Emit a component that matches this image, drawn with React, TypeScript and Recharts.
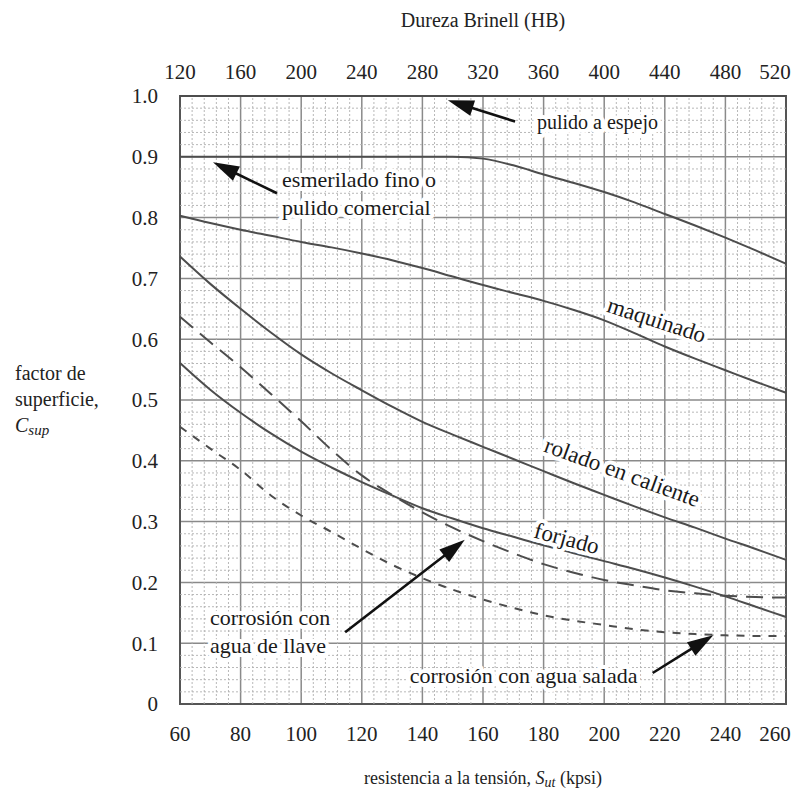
import React from 'react';
import {
  LineChart,
  Line,
  XAxis,
  YAxis,
  CartesianGrid,
  ReferenceLine,
  ReferenceDot,
  ReferenceArea,
  Text,
} from 'recharts';

// ---------------- data ----------------
const kpsi = [60, 70, 80, 90, 100, 110, 120, 130, 140, 150, 160, 170, 180, 190, 200, 210, 220, 230, 240, 250, 260];
const pulidoEspejo = [1.0, 1.0, 1.0, 1.0, 1.0, 1.0, 1.0, 1.0, 1.0, 1.0, 1.0, 1.0, 1.0, 1.0, 1.0, 1.0, 1.0, 1.0, 1.0, 1.0, 1.0];
const esmerilado = [0.9, 0.9, 0.9, 0.9, 0.9, 0.9, 0.9, 0.9, 0.9, 0.9, 0.897, 0.886, 0.871, 0.857, 0.842, 0.825, 0.806, 0.787, 0.767, 0.746, 0.724];
const maquinado = [0.803, 0.791, 0.780, 0.770, 0.760, 0.751, 0.741, 0.730, 0.717, 0.703, 0.689, 0.676, 0.663, 0.648, 0.631, 0.610, 0.588, 0.568, 0.549, 0.530, 0.512];
const rolado = [0.736, 0.691, 0.650, 0.611, 0.575, 0.544, 0.516, 0.489, 0.464, 0.443, 0.423, 0.403, 0.383, 0.363, 0.344, 0.325, 0.307, 0.290, 0.272, 0.255, 0.237];
const forjado = [0.561, 0.517, 0.479, 0.445, 0.415, 0.389, 0.365, 0.343, 0.322, 0.305, 0.289, 0.275, 0.261, 0.248, 0.235, 0.222, 0.208, 0.193, 0.177, 0.160, 0.143];
const aguaLlave = [0.637, 0.595, 0.554, 0.510, 0.465, 0.418, 0.376, 0.344, 0.315, 0.290, 0.268, 0.248, 0.230, 0.216, 0.204, 0.195, 0.187, 0.182, 0.178, 0.176, 0.175];
const aguaSalada = [0.456, 0.420, 0.385, 0.343, 0.310, 0.283, 0.255, 0.229, 0.207, 0.188, 0.172, 0.158, 0.146, 0.137, 0.130, 0.123, 0.118, 0.115, 0.113, 0.112, 0.112];

const bottomTicks = [60, 80, 100, 120, 140, 160, 180, 200, 220, 240, 260];
const topTickLabels = ['120', '160', '200', '240', '280', '320', '360', '400', '440', '480', '520'];
const yTicks = [0, 0.1, 0.2, 0.3, 0.4, 0.5, 0.6, 0.7, 0.8, 0.9, 1.0];

const data = kpsi.map((k, i) => ({
  kpsi: k,
  espejo: pulidoEspejo[i],
  esmerilado: esmerilado[i],
  maquinado: maquinado[i],
  rolado: rolado[i],
  forjado: forjado[i],
  llave: aguaLlave[i],
  salada: aguaSalada[i],
}));

// graph-paper subdivisions (5 per major cell), skipping the major lines
const minorX: number[] = [];
for (let v = 64; v < 260; v += 4) if (v % 20 !== 0) minorX.push(v);
const minorY: number[] = [];
for (let v = 2; v < 100; v += 2) if (v % 10 !== 0) minorY.push(v / 100);

// ---------------- styles ----------------
const FONT = '"Liberation Serif", "DejaVu Serif", serif';
const INK = '#222';
const CURVE = '#4d4d4d';
const TICK_SIZE = 21;

const lastShift = (v: number) => (v === bottomTicks[bottomTicks.length - 1] ? -11 : 0);

const BottomTick = (p: any) => (
  <Text
    x={p.x + lastShift(p.payload.value)}
    y={p.y}
    textAnchor="middle"
    verticalAnchor="start"
    fontFamily={FONT}
    fontSize={TICK_SIZE}
    fill={INK}
  >
    {String(p.payload.value)}
  </Text>
);

const TopTick = (p: any) => (
  <Text
    x={p.x + lastShift(p.payload.value)}
    y={p.y}
    textAnchor="middle"
    verticalAnchor="end"
    fontFamily={FONT}
    fontSize={TICK_SIZE}
    fill={INK}
  >
    {topTickLabels[bottomTicks.indexOf(p.payload.value)]}
  </Text>
);

const Arrow = (props: any) => {
  const { x1, y1, x2, y2 } = props;
  const dx = x2 - x1;
  const dy = y2 - y1;
  const len = Math.hypot(dx, dy) || 1;
  const ux = dx / len;
  const uy = dy / len;
  const L = 26;
  const W = 8;
  const bx = x1 + ux * L;
  const by = y1 + uy * L;
  const pts = `${x1},${y1} ${bx - uy * W},${by + ux * W} ${bx + uy * W},${by - ux * W}`;
  return (
    <g>
      <line x1={bx - ux * 2} y1={by - uy * 2} x2={x2} y2={y2} stroke="#111" strokeWidth={2.6} />
      <polygon points={pts} fill="#111" />
    </g>
  );
};

const makeText = (lines: string[], anchor: string, rotate: number, size = 22, lineGap = 28) => (props: any) => {
  const { cx, cy } = props;
  return (
    <text
      x={cx}
      y={cy}
      textAnchor={anchor as any}
      dominantBaseline="central"
      transform={rotate ? `rotate(${rotate} ${cx} ${cy})` : undefined}
      fontFamily={FONT}
      fontSize={size}
      fill="#1a1a1a"
      stroke="#fff"
      strokeWidth={8}
      strokeLinejoin="round"
      paintOrder="stroke"
    >
      {lines.map((l, i) => (
        <tspan key={i} x={cx} dy={i === 0 ? 0 : lineGap}>
          {l}
        </tspan>
      ))}
    </text>
  );
};

const TopTitle = (props: any) => {
  const vb = props.viewBox;
  return (
    <text x={vb.x + vb.width / 2} y={vb.y + 12} textAnchor="middle" dominantBaseline="central" fontFamily={FONT} fontSize={20} fill={INK}>
      Dureza Brinell (HB)
    </text>
  );
};

const BottomTitle = (props: any) => {
  const vb = props.viewBox;
  return (
    <text x={vb.x + vb.width / 2} y={vb.y + 74} textAnchor="middle" dominantBaseline="central" fontFamily={FONT} fontSize={18} fill={INK}>
      resistencia a la tensión,{' '}
      <tspan fontStyle="italic">S</tspan>
      <tspan fontStyle="italic" fontSize={14} dy={4}>ut</tspan>
      <tspan dy={-4}> (kpsi)</tspan>
    </text>
  );
};

const LeftTitle = (props: any) => {
  const vb = props.viewBox;
  const c = vb.y + vb.height / 2;
  const x = 7;
  return (
    <text fontFamily={FONT} fontSize={20} fill={INK} dominantBaseline="central">
      <tspan x={x} y={c - 27}>factor de</tspan>
      <tspan x={x} y={c - 1}>superficie,</tspan>
      <tspan x={x} y={c + 25} fontStyle="italic">C</tspan>
      <tspan fontStyle="italic" fontSize={15} dy={5}>sup</tspan>
    </text>
  );
};

const tickStyle = { fontFamily: FONT, fontSize: TICK_SIZE, fill: INK };

export default function App() {
  return (
    <LineChart
      width={795}
      height={790}
      data={data}
      margin={{ top: 0, right: 17, bottom: 0, left: 0 }}
    >
      <XAxis
        xAxisId="bottom"
        dataKey="kpsi"
        type="number"
        domain={[60, 260]}
        ticks={bottomTicks}
        orientation="bottom"
        height={94}
        tickSize={0}
        tickMargin={22}
        axisLine={false}
        tick={BottomTick}
        interval={0}
        label={BottomTitle}
      />
      <XAxis
        xAxisId="top"
        dataKey="kpsi"
        type="number"
        domain={[60, 260]}
        ticks={bottomTicks}
        orientation="top"
        height={88}
        tickSize={0}
        tickMargin={17}
        axisLine={false}
        tick={TopTick}
        interval={0}
        label={TopTitle}
      />
      <YAxis
        yAxisId="main"
        type="number"
        domain={[0, 1]}
        ticks={yTicks}
        width={172}
        tickSize={0}
        tickMargin={22}
        axisLine={false}
        tick={tickStyle}
        interval={0}
        tickFormatter={(v: number) => (v === 0 ? '0' : v.toFixed(1))}
        label={LeftTitle}
      />

      {minorX.map((v) => (
        <ReferenceLine key={`mx${v}`} xAxisId="bottom" yAxisId="main" x={v} stroke="#b0b0b0" strokeWidth={0.9} strokeDasharray="2 2" />
      ))}
      {minorY.map((v) => (
        <ReferenceLine key={`my${v}`} xAxisId="bottom" yAxisId="main" y={v} stroke="#b0b0b0" strokeWidth={0.9} strokeDasharray="2 2" />
      ))}
      <CartesianGrid xAxisId="bottom" yAxisId="main" stroke="#8a8a8a" strokeWidth={1.5} />

      <Line xAxisId="top" yAxisId="main" type="monotone" dataKey="espejo" stroke={CURVE} strokeWidth={2} dot={false} isAnimationActive={false} />
      <Line xAxisId="bottom" yAxisId="main" type="monotone" dataKey="esmerilado" stroke={CURVE} strokeWidth={2} dot={false} isAnimationActive={false} />
      <Line xAxisId="bottom" yAxisId="main" type="monotone" dataKey="maquinado" stroke={CURVE} strokeWidth={2} dot={false} isAnimationActive={false} />
      <Line xAxisId="bottom" yAxisId="main" type="monotone" dataKey="rolado" stroke={CURVE} strokeWidth={2} dot={false} isAnimationActive={false} />
      <Line xAxisId="bottom" yAxisId="main" type="monotone" dataKey="forjado" stroke={CURVE} strokeWidth={2} dot={false} isAnimationActive={false} />
      <Line xAxisId="bottom" yAxisId="main" type="monotone" dataKey="llave" stroke={CURVE} strokeWidth={2} strokeDasharray="17 9" dot={false} isAnimationActive={false} />
      <Line xAxisId="bottom" yAxisId="main" type="monotone" dataKey="salada" stroke={CURVE} strokeWidth={2} strokeDasharray="8 8" dot={false} isAnimationActive={false} />

      <ReferenceArea xAxisId="bottom" yAxisId="main" x1={60} x2={260} y1={0} y2={1} fill="none" stroke="#555" strokeWidth={2} ifOverflow="visible" />

      {/* arrows: first point is the tip */}
      <ReferenceLine xAxisId="bottom" yAxisId="main" segment={[{ x: 148.4, y: 0.993 }, { x: 170.6, y: 0.958 }]} shape={Arrow} ifOverflow="visible" />
      <ReferenceLine xAxisId="bottom" yAxisId="main" segment={[{ x: 70.9, y: 0.891 }, { x: 92, y: 0.84 }]} shape={Arrow} ifOverflow="visible" />
      <ReferenceLine xAxisId="bottom" yAxisId="main" segment={[{ x: 154, y: 0.27 }, { x: 114.5, y: 0.118 }]} shape={Arrow} ifOverflow="visible" />
      <ReferenceLine xAxisId="bottom" yAxisId="main" segment={[{ x: 236, y: 0.113 }, { x: 216, y: 0.051 }]} shape={Arrow} ifOverflow="visible" />

      {/* labels */}
      <ReferenceDot xAxisId="bottom" yAxisId="main" x={177.8} y={0.957} r={0} shape={makeText(['pulido a espejo'], 'start', 0, 20)} ifOverflow="visible" />
      <ReferenceDot xAxisId="bottom" yAxisId="main" x={93.7} y={0.8635} r={0} shape={makeText(['esmerilado fino o', 'pulido comercial'], 'start', 0)} ifOverflow="visible" />
      <ReferenceDot xAxisId="bottom" yAxisId="main" x={217.4} y={0.632} r={0} shape={makeText(['maquinado'], 'middle', 18, 23)} ifOverflow="visible" />
      <ReferenceDot xAxisId="bottom" yAxisId="main" x={206} y={0.382} r={0} shape={makeText(['rolado en caliente'], 'middle', 20, 23)} ifOverflow="visible" />
      <ReferenceDot xAxisId="bottom" yAxisId="main" x={187.7} y={0.273} r={0} shape={makeText(['forjado'], 'middle', 15, 23)} ifOverflow="visible" />
      <ReferenceDot xAxisId="bottom" yAxisId="main" x={69.9} y={0.143} r={0} shape={makeText(['corrosión con', 'agua de llave'], 'start', 0)} ifOverflow="visible" />
      <ReferenceDot xAxisId="bottom" yAxisId="main" x={211} y={0.048} r={0} shape={makeText(['corrosión con agua salada'], 'end', 0)} ifOverflow="visible" />
    </LineChart>
  );
}
